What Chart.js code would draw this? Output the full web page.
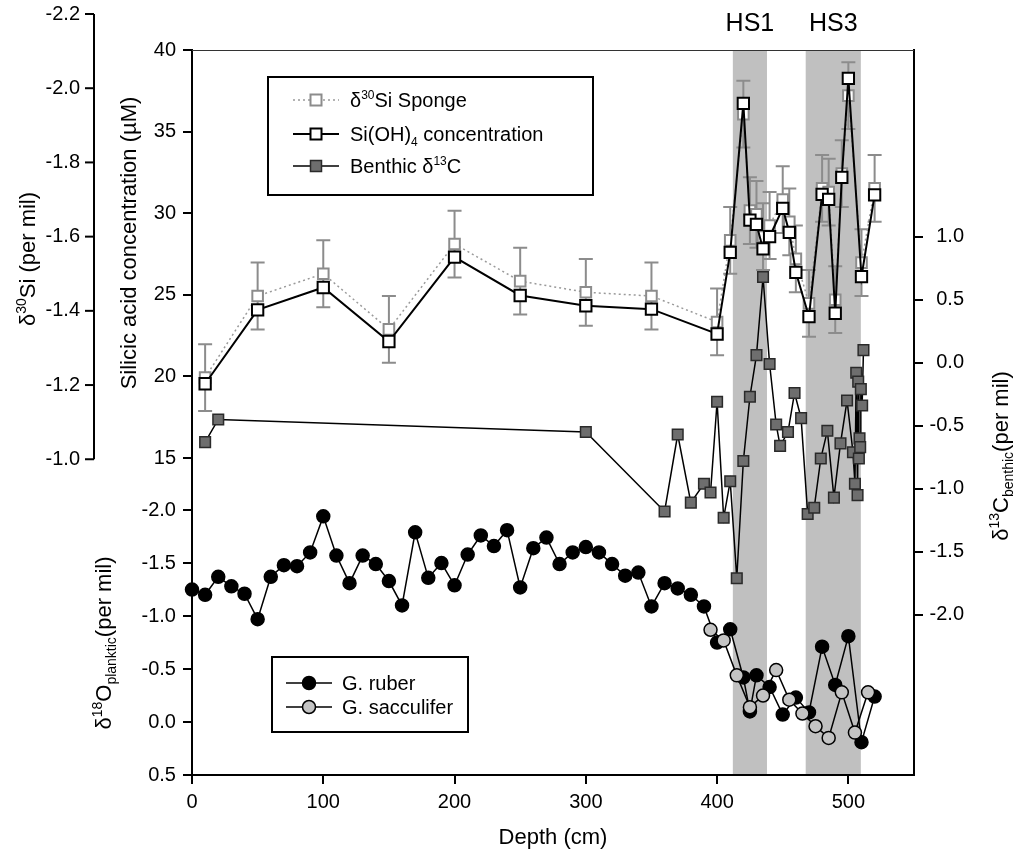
<!DOCTYPE html>
<html>
<head>
<meta charset="utf-8">
<title>Depth profiles</title>
<script src="https://cdn.jsdelivr.net/npm/chart.js@4.4.1/dist/chart.umd.min.js"></script>
<style>
  html, body { margin: 0; padding: 0; background: #fff; }
  canvas { display: block; }
</style>
</head>
<body>
<canvas id="profiles" width="1016" height="861"></canvas>
<script>
// sponge samples: depth (cm), d30Si (per mil) and the derived Si(OH)4 (uM)
const siDepth = [10, 50, 100, 150, 200, 250, 300, 350, 400, 410, 420, 425, 430, 435, 440, 450, 455, 460, 470, 480, 485, 490, 495, 500, 510, 520];
const spongeD30Si = [-1.22, -1.44, -1.50, -1.35, -1.58, -1.48, -1.45, -1.44, -1.37, -1.59, -1.93, -1.67, -1.66, -1.60, -1.63, -1.70, -1.64, -1.54, -1.42, -1.73, -1.72, -1.43, -1.77, -1.98, -1.53, -1.73];
const spongeErr = 0.09;
const siOH4 = [19.55, 24.08, 25.45, 22.14, 27.31, 24.96, 24.33, 24.12, 22.6, 27.6, 36.73, 29.58, 29.32, 27.81, 28.56, 30.3, 28.83, 26.38, 23.66, 31.16, 30.85, 23.87, 32.2, 38.26, 26.11, 31.12];

// benthic foraminifera d13C
const benthicDepth = [10, 20, 300, 360, 370, 380, 390, 395, 400, 405, 410, 415, 420, 425, 430, 435, 440, 445, 448, 454, 459, 464, 469, 474, 479, 484, 489, 494, 499, 503.5, 505, 506, 507, 507.5, 508, 508.5, 509, 509.5, 510.5, 511.5];
const benthicD13C = [-0.63, -0.45, -0.55, -1.18, -0.57, -1.11, -0.96, -1.03, -0.31, -1.23, -0.94, -1.71, -0.78, -0.27, 0.06, 0.68, -0.01, -0.49, -0.66, -0.55, -0.24, -0.44, -1.20, -1.15, -0.76, -0.54, -1.07, -0.64, -0.30, -0.71, -0.96, -0.08, -1.05, -0.15, -0.76, -0.60, -0.67, -0.21, -0.34, 0.10];

// planktic d18O
const ruberDepth = [0, 10, 20, 30, 40, 50, 60, 70, 80, 90, 100, 110, 120, 130, 140, 150, 160, 170, 180, 190, 200, 210, 220, 230, 240, 250, 260, 270, 280, 290, 300, 310, 320, 330, 340, 350, 360, 370, 380, 390, 400, 410, 420, 425, 430, 440, 450, 460, 470, 480, 490, 500, 510, 520];
const ruberD18O = [-1.25, -1.20, -1.37, -1.28, -1.21, -0.97, -1.37, -1.48, -1.47, -1.60, -1.94, -1.57, -1.31, -1.57, -1.49, -1.33, -1.10, -1.79, -1.36, -1.50, -1.29, -1.58, -1.76, -1.66, -1.81, -1.27, -1.64, -1.74, -1.49, -1.60, -1.65, -1.60, -1.49, -1.38, -1.41, -1.09, -1.31, -1.26, -1.20, -1.09, -0.75, -0.875, -0.42, -0.10, -0.44, -0.33, -0.07, -0.23, -0.09, -0.71, -0.35, -0.81, 0.19, -0.24];
const saccDepth = [395, 405, 415, 425, 435, 445, 455, 465, 475, 485, 495, 505, 515];
const saccD18O = [-0.87, -0.77, -0.44, -0.14, -0.25, -0.49, -0.21, -0.08, 0.04, 0.15, -0.28, 0.10, -0.28];

// Heinrich stadials (depth ranges)
const hsNames = ['HS1', 'HS3'];
const hsStart = [412, 467.5];
const hsEnd = [438, 509.5];

// tick labels
const depthTicks = [0, 100, 200, 300, 400, 500];
const siTicks = [15, 20, 25, 30, 35, 40];
const d30Ticks = [-2.2, -2.0, -1.8, -1.6, -1.4, -1.2, -1.0];
const d13Ticks = [-2.0, -1.5, -1.0, -0.5, 0.0, 0.5, 1.0];
const d18Ticks = [-2.0, -1.5, -1.0, -0.5, 0.0, 0.5];

const FAMILY = '"Liberation Sans", Arial, sans-serif';
const px = s => s + 'px ' + FAMILY;
const pts = (xs, ys) => xs.map((d, i) => ({ x: d, y: ys[i] }));

// text made of pieces, some raised or lowered; centred on (x, y) unless align is 'left'
function richText(ctx, parts, x, y, size, rotate, align) {
  ctx.save();
  ctx.translate(x, y);
  if (rotate) ctx.rotate(-Math.PI / 2);
  const pieces = parts.map(([t, kind]) => {
    const s = kind ? Math.round(size * 0.62) : size;
    ctx.font = px(s);
    return { t, kind, s, w: ctx.measureText(t).width };
  });
  const total = pieces.reduce((a, p) => a + p.w, 0);
  let cx = align === 'left' ? 0 : -total / 2;
  ctx.textAlign = 'left';
  ctx.textBaseline = 'alphabetic';
  ctx.fillStyle = '#000';
  pieces.forEach(p => {
    ctx.font = px(p.s);
    let dy = size * 0.36;
    if (p.kind === 'sup') dy -= size * 0.4;
    if (p.kind === 'sub') dy += size * 0.22;
    ctx.fillText(p.t, cx, dy);
    cx += p.w;
  });
  ctx.restore();
}

function square(ctx, x, y, side, fill, stroke, lw) {
  ctx.fillStyle = fill;
  ctx.strokeStyle = stroke;
  ctx.lineWidth = lw;
  ctx.fillRect(x - side / 2, y - side / 2, side, side);
  ctx.strokeRect(x - side / 2, y - side / 2, side, side);
}

function circle(ctx, x, y, r, fill) {
  ctx.beginPath();
  ctx.arc(x, y, r, 0, Math.PI * 2);
  ctx.fillStyle = fill;
  ctx.fill();
  ctx.strokeStyle = '#000';
  ctx.lineWidth = 1.5;
  ctx.stroke();
}

const decor = {
  id: 'decor',
  beforeDraw(chart) {
    const { ctx, chartArea: a, scales: { x } } = chart;
    ctx.save();
    hsNames.forEach((name, i) => {
      const x0 = x.getPixelForValue(hsStart[i]);
      const x1 = x.getPixelForValue(hsEnd[i]);
      ctx.fillStyle = '#c0c0c0';
      ctx.fillRect(x0, a.top, x1 - x0, a.bottom - a.top);
      ctx.fillStyle = '#000';
      ctx.font = px(25);
      ctx.textAlign = 'center';
      ctx.textBaseline = 'middle';
      ctx.fillText(name, (x0 + x1) / 2, 24);
    });
    ctx.restore();
  },
  beforeDatasetsDraw(chart) {
    // error bars on the sponge d30Si
    const { ctx, scales: { x, ySi } } = chart;
    ctx.save();
    ctx.strokeStyle = '#8c8c8c';
    ctx.lineWidth = 2;
    siDepth.forEach((d, i) => {
      const cx = x.getPixelForValue(d);
      const lo = ySi.getPixelForValue(spongeD30Si[i] - spongeErr);
      const hi = ySi.getPixelForValue(spongeD30Si[i] + spongeErr);
      ctx.beginPath();
      ctx.moveTo(cx, lo); ctx.lineTo(cx, hi);
      ctx.moveTo(cx - 7, lo); ctx.lineTo(cx + 7, lo);
      ctx.moveTo(cx - 7, hi); ctx.lineTo(cx + 7, hi);
      ctx.stroke();
    });
    ctx.restore();
  },
  afterDraw(chart) {
    const { ctx, chartArea: a, scales: { ySi } } = chart;
    ctx.save();

    // top edge of the frame
    ctx.strokeStyle = '#333';
    ctx.lineWidth = 1;
    ctx.beginPath();
    ctx.moveTo(a.left, a.top + 0.5);
    ctx.lineTo(a.right, a.top + 0.5);
    ctx.stroke();

    // free-standing d30Si axis
    const ax = 94;
    ctx.strokeStyle = '#000';
    ctx.lineWidth = 2;
    ctx.beginPath();
    ctx.moveTo(ax, ySi.getPixelForValue(d30Ticks[0]));
    ctx.lineTo(ax, ySi.getPixelForValue(d30Ticks[d30Ticks.length - 1]));
    ctx.stroke();
    ctx.font = px(20);
    ctx.fillStyle = '#000';
    ctx.textAlign = 'right';
    ctx.textBaseline = 'middle';
    d30Ticks.forEach(v => {
      const y = ySi.getPixelForValue(v);
      ctx.beginPath();
      ctx.moveTo(ax - 9, y); ctx.lineTo(ax, y);
      ctx.stroke();
      ctx.fillText(v.toFixed(1), ax - 14, y);
    });

    // axis titles
    richText(ctx, [['δ'], ['30', 'sup'], ['Si (per mil)']], 27, 259, 22, true);
    richText(ctx, [['Silicic acid concentration (µM)']], 128, 243, 22, true);
    richText(ctx, [['δ'], ['18', 'sup'], ['O'], ['planktic', 'sub'], ['(per mil)']], 103, 643, 22, true);
    richText(ctx, [['δ'], ['13', 'sup'], ['C'], ['benthic', 'sub'], ['(per mil)']], 1000, 456, 22, true);

    // upper legend
    ctx.strokeStyle = '#000';
    ctx.lineWidth = 2;
    ctx.strokeRect(268, 77, 325, 118);
    ctx.lineWidth = 1.5;
    ctx.strokeStyle = '#9a9a9a';
    ctx.setLineDash([2, 3]);
    ctx.beginPath(); ctx.moveTo(293, 100); ctx.lineTo(339, 100); ctx.stroke();
    ctx.setLineDash([]);
    square(ctx, 316, 100, 11, '#fff', '#8c8c8c', 2);
    ctx.strokeStyle = '#000';
    ctx.lineWidth = 2;
    ctx.beginPath(); ctx.moveTo(293, 134); ctx.lineTo(339, 134); ctx.stroke();
    square(ctx, 316, 134, 11, '#fff', '#000', 2);
    ctx.strokeStyle = '#000';
    ctx.lineWidth = 1.5;
    ctx.beginPath(); ctx.moveTo(293, 166); ctx.lineTo(339, 166); ctx.stroke();
    square(ctx, 316, 166, 11, '#6e6e6e', '#2a2a2a', 1.5);
    richText(ctx, [['δ'], ['30', 'sup'], ['Si Sponge']], 350, 100, 20, false, 'left');
    richText(ctx, [['Si(OH)'], ['4', 'sub'], [' concentration']], 350, 134, 20, false, 'left');
    richText(ctx, [['Benthic δ'], ['13', 'sup'], ['C']], 350, 166, 20, false, 'left');

    // lower legend
    ctx.strokeStyle = '#000';
    ctx.lineWidth = 2;
    ctx.strokeRect(272, 657, 196, 75);
    ctx.lineWidth = 1.5;
    [683, 707].forEach(y => {
      ctx.beginPath(); ctx.moveTo(286, y); ctx.lineTo(332, y); ctx.stroke();
    });
    circle(ctx, 309, 683, 6.5, '#000');
    circle(ctx, 309, 707, 6.5, '#c4c4c4');
    richText(ctx, [['G. ruber']], 342, 683, 20, false, 'left');
    richText(ctx, [['G. sacculifer']], 342, 707, 20, false, 'left');

    ctx.restore();
  }
};

const axisLine = { display: true, color: '#000', width: 2 };
const tickMarks = { drawOnChartArea: false, drawTicks: true, tickLength: 9, color: '#000', lineWidth: 2 };
const tickFont = { family: FAMILY, size: 20 };
const fixedTicks = list => scale => { scale.ticks = list.map(v => ({ value: v })); };

new Chart(document.getElementById('profiles'), {
  type: 'line',
  data: {
    datasets: [
      {
        label: 'd30Si sponge',
        data: pts(siDepth, spongeD30Si),
        yAxisID: 'ySi',
        borderColor: '#9a9a9a',
        borderWidth: 1.5,
        borderDash: [2, 3],
        pointStyle: 'rect',
        pointRadius: 7.5,
        pointBackgroundColor: '#fff',
        pointBorderColor: '#8c8c8c',
        pointBorderWidth: 2,
        order: 5
      },
      {
        label: 'Si(OH)4 concentration',
        data: pts(siDepth, siOH4),
        yAxisID: 'y',
        borderColor: '#000',
        borderWidth: 2,
        pointStyle: 'rect',
        pointRadius: 8,
        pointBackgroundColor: '#fff',
        pointBorderColor: '#000',
        pointBorderWidth: 2,
        order: 1
      },
      {
        label: 'Benthic d13C',
        data: pts(benthicDepth, benthicD13C),
        yAxisID: 'yC',
        borderColor: '#000',
        borderWidth: 1.5,
        pointStyle: 'rect',
        pointRadius: 7.5,
        pointBackgroundColor: '#6e6e6e',
        pointBorderColor: '#2a2a2a',
        pointBorderWidth: 1.5,
        order: 2
      },
      {
        label: 'G. ruber',
        data: pts(ruberDepth, ruberD18O),
        yAxisID: 'yO',
        clip: false,
        borderColor: '#000',
        borderWidth: 1.5,
        pointRadius: 6.5,
        pointBackgroundColor: '#000',
        pointBorderColor: '#000',
        pointBorderWidth: 1.5,
        order: 4
      },
      {
        label: 'G. sacculifer',
        data: pts(saccDepth, saccD18O),
        yAxisID: 'yO',
        borderColor: '#000',
        borderWidth: 1.5,
        pointRadius: 6.5,
        pointBackgroundColor: '#c4c4c4',
        pointBorderColor: '#000',
        pointBorderWidth: 1.5,
        order: 3
      }
    ]
  },
  options: {
    responsive: false,
    animation: false,
    devicePixelRatio: 1,
    layout: { padding: { top: 50, left: 0, right: 52, bottom: 0 } },
    elements: { line: { tension: 0 } },
    plugins: { legend: { display: false }, tooltip: { enabled: false } },
    scales: {
      x: {
        type: 'linear',
        position: 'bottom',
        min: 0,
        max: 550,
        afterBuildTicks: fixedTicks(depthTicks),
        afterFit: s => { s.height = 86; },
        grid: tickMarks,
        border: axisLine,
        ticks: { font: tickFont, color: '#000', padding: 6, autoSkip: false, maxRotation: 0 },
        title: { display: true, text: 'Depth (cm)', color: '#000', font: { family: FAMILY, size: 22 }, padding: { top: 4, bottom: 10 } }
      },
      y: {
        position: 'left',
        weight: 1,
        min: -4.42,
        max: 40,
        afterBuildTicks: fixedTicks(siTicks),
        afterFit: s => { s.width = 192; },
        grid: tickMarks,
        border: axisLine,
        ticks: { font: tickFont, color: '#000', padding: 7 }
      },
      yO: {
        // shares the left edge with the silicic axis; mirrored labels are pushed back outside
        position: 'left',
        weight: 0,
        reverse: true,
        min: -6.34,
        max: 0.5,
        afterBuildTicks: fixedTicks(d18Ticks),
        afterFit: s => { s.width = 0; },
        grid: tickMarks,
        border: { display: false },
        ticks: { font: tickFont, color: '#000', mirror: true, crossAlign: 'far', padding: -50.5, callback: v => v.toFixed(1) }
      },
      yC: {
        position: 'right',
        min: -3.27,
        max: 2.48,
        afterBuildTicks: fixedTicks(d13Ticks),
        afterFit: s => { s.width = 50; },
        grid: tickMarks,
        border: axisLine,
        ticks: { font: tickFont, color: '#000', padding: 7, crossAlign: 'far', callback: v => v.toFixed(1) }
      },
      ySi: {
        display: false,
        reverse: true,
        min: -2.103,
        max: -0.149
      }
    }
  },
  plugins: [decor]
});
</script>
</body>
</html>
